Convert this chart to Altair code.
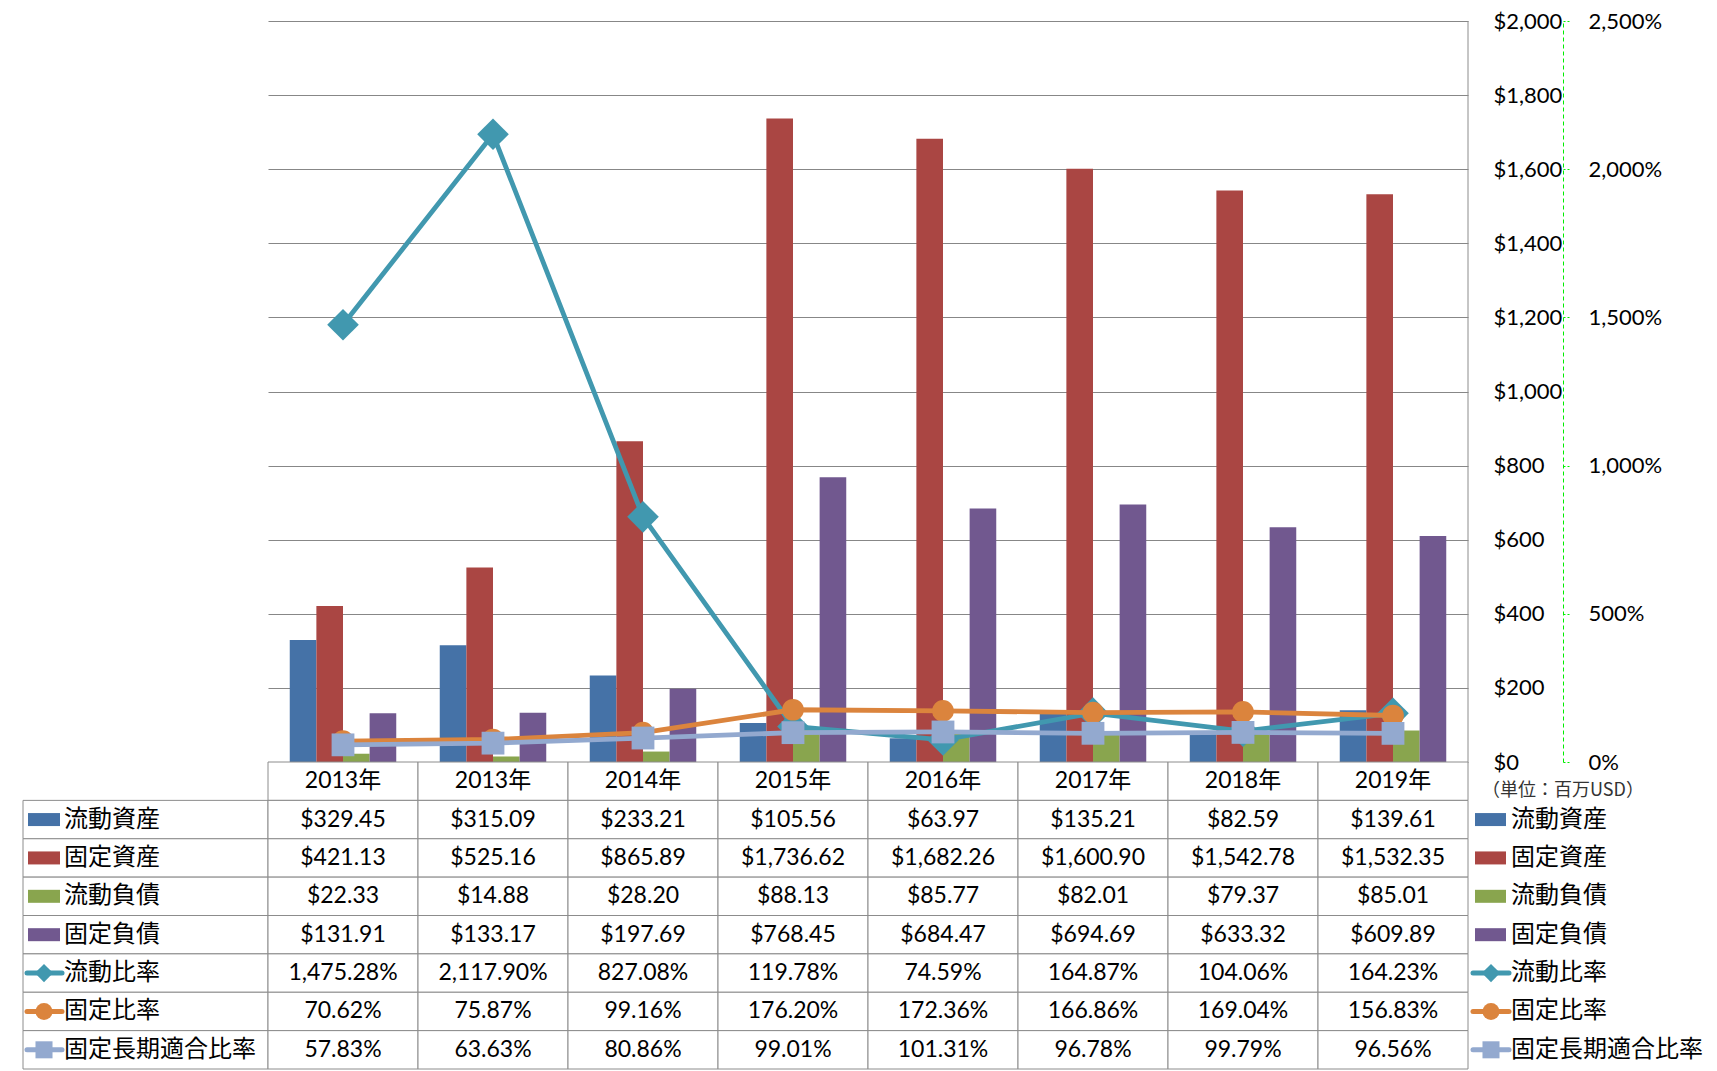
import altair as alt
import pandas as pd

# ---------------- data ----------------
years = ["2013年", "2013年", "2014年", "2015年", "2016年", "2017年", "2018年", "2019年"]
current_assets = [329.45, 315.09, 233.21, 105.56, 63.97, 135.21, 82.59, 139.61]
fixed_assets = [421.13, 525.16, 865.89, 1736.62, 1682.26, 1600.90, 1542.78, 1532.35]
current_liab = [22.33, 14.88, 28.20, 88.13, 85.77, 82.01, 79.37, 85.01]
fixed_liab = [131.91, 133.17, 197.69, 768.45, 684.47, 694.69, 633.32, 609.89]
current_ratio = [1475.28, 2117.90, 827.08, 119.78, 74.59, 164.87, 104.06, 164.23]
fixed_ratio = [70.62, 75.87, 99.16, 176.20, 172.36, 166.86, 169.04, 156.83]
fixed_lt_ratio = [57.83, 63.63, 80.86, 99.01, 101.31, 96.78, 99.79, 96.56]

bar_names = ["流動資産", "固定資産", "流動負債", "固定負債"]
line_names = ["流動比率", "固定比率", "固定長期適合比率"]
unit_label = "（単位：百万USD）"

# ---------------- styles ----------------
bar_colors = ["#4572A7", "#AA4643", "#89A54E", "#71588F"]
line_colors = ["#4198AF", "#DB843D", "#93A9CF"]
line_shapes = ["diamond", "circle", "square"]
marker_sizes = [1000, 470, 520]
key_marker_sizes = [330, 290, 290]
FONT = "Lato, 'Noto Sans CJK JP', sans-serif"
CJK = "'Noto Sans CJK JP', sans-serif"
GRID = "#878787"
BORDER = "#8C8C8C"

W = 1200          # plot / table data width
H = 741           # plot height
TH = 307          # table height
LW = 245          # row-label column width
RW = 240          # right legend column width

idx = list(range(len(years)))
bar_series = [current_assets, fixed_assets, current_liab, fixed_liab]
line_series = [current_ratio, fixed_ratio, fixed_lt_ratio]

bars_df = pd.DataFrame([
    {"i": i, "series": s, "value": v}
    for s, vals in zip(bar_names, bar_series)
    for i, v in enumerate(vals)
])
lines_df = pd.DataFrame([
    {"i": i, "series": s, "ratio": v}
    for s, vals in zip(line_names, line_series)
    for i, v in enumerate(vals)
])

# ---------------- main chart ----------------
x_main = alt.X("i:O", scale=alt.Scale(domain=idx, paddingInner=0.29, paddingOuter=0.145), axis=None)

bars = alt.Chart(bars_df).mark_bar().encode(
    x=x_main,
    xOffset=alt.XOffset("series:N", sort=bar_names,
                        scale=alt.Scale(domain=bar_names, paddingInner=0, paddingOuter=0)),
    y=alt.Y("value:Q",
            scale=alt.Scale(domain=[0, 2000], nice=False),
            axis=alt.Axis(orient="right", values=list(range(0, 2001, 200)),
                          labelExpr="'$' + format(datum.value, ',')",
                          grid=True, gridColor=GRID, gridWidth=1,
                          domain=False, ticks=False, labelAlign="left",
                          labelPadding=25, labelFontSize=22, labelFont=FONT,
                          labelColor="#000000", title=None)),
    color=alt.Color("series:N", scale=alt.Scale(domain=bar_names, range=bar_colors), legend=None),
)

ratio_axis = alt.Axis(orient="right", offset=95, values=list(range(0, 2501, 500)),
                      labelExpr="format(datum.value, ',') + '%'",
                      grid=False, domain=True, domainColor="#00EE00", domainDash=[4, 3],
                      domainWidth=1, ticks=True, tickColor="#00EE00", tickDash=[2, 2],
                      tickSize=8, labelAlign="left", labelPadding=17,
                      labelFontSize=22, labelFont=FONT, labelColor="#000000", title=None)

line_layers = []
for name, col, shp, sz in zip(line_names, line_colors, line_shapes, marker_sizes):
    base = alt.Chart(lines_df).transform_filter(alt.datum.series == name).encode(
        x=x_main,
        y=alt.Y("ratio:Q", scale=alt.Scale(domain=[0, 2500], nice=False), axis=ratio_axis),
    )
    line_layers.append(base.mark_line(color=col, strokeWidth=4.8))
    line_layers.append(base.mark_point(shape=shp, filled=True, size=sz, color=col, opacity=1))

right_border = alt.Chart(pd.DataFrame({"a": [0]})).mark_rule(color=BORDER, strokeWidth=1).encode(
    x=alt.value(W), y=alt.value(0), y2=alt.value(H)
)

main = alt.layer(bars, alt.layer(*line_layers), right_border).resolve_scale(
    y="independent"
).properties(width=W, height=H)

blank = pd.DataFrame({"a": [0]})
spacer_left = alt.Chart(blank).mark_point(opacity=0).properties(width=LW, height=H)
spacer_right = alt.Chart(blank).mark_point(opacity=0).properties(width=RW, height=H)

# ---------------- table ----------------
rows = ["hdr"] + bar_names + line_names
cells = []
for i in idx:
    cells.append({"i": i, "row": "hdr", "txt": years[i], "hdr": 1})
for s, vals in zip(bar_names, bar_series):
    for i, v in enumerate(vals):
        cells.append({"i": i, "row": s, "txt": "$" + format(v, ",.2f"), "hdr": 0})
for s, vals in zip(line_names, line_series):
    for i, v in enumerate(vals):
        cells.append({"i": i, "row": s, "txt": format(v, ",.2f") + "%", "hdr": 0})
cells_df = pd.DataFrame(cells)

y_tab = alt.Y("row:N", sort=rows, scale=alt.Scale(domain=rows, paddingInner=0, paddingOuter=0), axis=None)
x_tab = alt.X("i:O", scale=alt.Scale(domain=idx, paddingInner=0, paddingOuter=0), axis=None)

tab_base = alt.Chart(cells_df).encode(x=x_tab, y=y_tab)
table = alt.layer(
    tab_base.mark_rect(fill="#FFFFFF", stroke=BORDER, strokeWidth=1),
    tab_base.transform_filter(alt.datum.hdr == 0).mark_text(fontSize=23, font=FONT, color="#000000").encode(text="txt:N"),
    tab_base.transform_filter(alt.datum.hdr == 1).mark_text(fontSize=23, font=FONT, color="#000000").encode(text="txt:N"),
).properties(width=W, height=TH)

# keys (row labels with legend symbols)
key_df = pd.DataFrame(
    [{"row": s, "kind": "bar", "color": c, "shape": "square", "size": 0} for s, c in zip(bar_names, bar_colors)]
    + [{"row": s, "kind": "line", "color": c, "shape": sh, "size": ks}
       for s, c, sh, ks in zip(line_names, line_colors, line_shapes, key_marker_sizes)]
)


def key_column(width, bx0, bx1, lx0, lx1, mx, tx, with_cells):
    base = alt.Chart(key_df).encode(y=y_tab)
    layers = []
    if with_cells:
        layers.append(base.mark_rect(fill="#FFFFFF", stroke=BORDER, strokeWidth=1).encode(
            x=alt.value(0), x2=alt.value(width)))
    layers.append(base.transform_filter(alt.datum.kind == "bar").mark_rule(strokeWidth=13, strokeCap="butt").encode(
        x=alt.value(bx0), x2=alt.value(bx1), color=alt.Color("color:N", scale=None)))
    layers.append(base.transform_filter(alt.datum.kind == "line").mark_rule(strokeWidth=5, strokeCap="round").encode(
        x=alt.value(lx0), x2=alt.value(lx1), color=alt.Color("color:N", scale=None)))
    layers.append(base.transform_filter(alt.datum.kind == "line").mark_point(filled=True, opacity=1).encode(
        x=alt.value(mx), color=alt.Color("color:N", scale=None),
        shape=alt.Shape("shape:N", scale=None), size=alt.Size("size:Q", scale=None)))
    layers.append(base.mark_text(align="left", baseline="middle", fontSize=24, font=CJK, color="#000000").encode(
        x=alt.value(tx), text="row:N"))
    return layers


label_col = alt.layer(*key_column(LW, 5, 37, 4, 39, 21, 41, True)).properties(width=LW, height=TH)

unit_df = pd.DataFrame({"row": ["hdr"], "txt": [unit_label]})
unit_text = alt.Chart(unit_df).mark_text(align="left", baseline="middle", fontSize=18, font=CJK,
                                          color="#333333", dy=10).encode(
    y=y_tab, x=alt.value(14), text="txt:N")
legend_col = alt.layer(*key_column(RW, 7, 38, 5, 41, 23, 43, False), unit_text).properties(width=RW, height=TH)

chart = alt.concat(
    spacer_left, main, spacer_right,
    label_col, table, legend_col,
    columns=3, spacing=0, bounds="flush",
).properties(
    padding={"left": 13, "top": 2, "right": 0, "bottom": 0},
    background="#FFFFFF",
).configure_view(strokeWidth=0).configure_concat(spacing=0)

chart.save("out.html", embed_options={"renderer": "svg", "actions": False})
